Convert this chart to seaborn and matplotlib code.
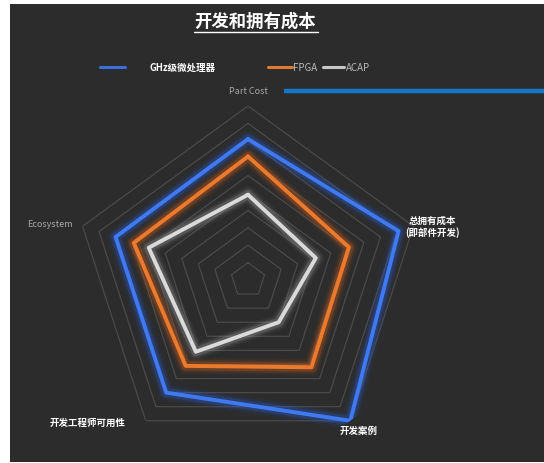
import numpy as np
import pandas as pd
import matplotlib
matplotlib.use("Agg")
import matplotlib.pyplot as plt
from matplotlib.patches import Rectangle
from matplotlib.lines import Line2D
import seaborn as sns

# ---- data ----
axes_labels = ["Part Cost", "总拥有成本\n(即部件开发)", "开发案例", "开发工程师可用性", "Ecosystem"]
series_names = ["GHz级微处理器", "FPGA", "ACAP"]
ghz_values = [8.1, 9.1, 10.0, 8.0, 8.0]
fpga_values = [7.1, 6.1, 6.2, 6.1, 6.9]
acap_values = [4.9, 4.1, 3.0, 5.1, 6.0]
ring_levels = [1, 2, 3, 4, 5, 6, 7, 8, 9, 10]
title_text = "开发和拥有成本"

sns.set_theme(style="dark")
plt.rcParams["font.family"] = ["Noto Sans CJK SC", "DejaVu Sans"]

W, H = 544, 464
fig = plt.figure(figsize=(W / 100, H / 100), dpi=100)
fig.patch.set_facecolor("white")
BG = "#2c2c2c"
fig.patches.append(Rectangle((10 / W, 1 - 463 / H), (W - 10) / W, (463 - 5) / H,
                             transform=fig.transFigure, facecolor=BG, edgecolor="none", zorder=-10))

def fx(px):
    return px / W

def fy(py):
    return 1 - py / H

# polar axes: center (248, 281), radius 174 px
cx, cy, R = 248, 281, 174
ax = fig.add_axes([fx(cx - R), fy(cy + R), 2 * R / W, 2 * R / H], projection="polar")
ax.set_zorder(1)
ax.set_facecolor("none")
ax.patch.set_alpha(0)
ax.set_theta_offset(np.pi / 2)
ax.set_theta_direction(-1)

n = len(axes_labels)
angles = [2 * np.pi * i / n for i in range(n)]
closed_angles = angles + angles[:1]

for lvl in ring_levels:
    ax.plot(closed_angles, [lvl] * (n + 1), color="#4a4a4a", lw=0.9, zorder=1)

colors = {"GHz级微处理器": ("#2a5fd6", "#3f7af2"),
          "FPGA": ("#d9621c", "#ec7a2c"),
          "ACAP": ("#a0a0a0", "#dadada")}

rows = []
for name, vals in zip(series_names, [ghz_values, fpga_values, acap_values]):
    cv = vals + vals[:1]
    for i, (a, v) in enumerate(zip(closed_angles, cv)):
        rows.append({"series": name, "angle": a, "value": v, "order": i})
df = pd.DataFrame(rows)

for name in series_names:
    sub = df[df["series"] == name].sort_values("order")
    glow, core = colors[name]
    for lw, al in [(12, 0.06), (9, 0.12), (6.5, 0.25)]:
        sns.lineplot(data=sub, x="angle", y="value", sort=False, ax=ax,
                     color=glow, lw=lw, alpha=al, estimator=None, legend=False, zorder=2)
    sns.lineplot(data=sub, x="angle", y="value", sort=False, ax=ax,
                 color=core, lw=2.8, estimator=None, legend=False, zorder=3)

ax.set_ylim(0, 10)
ax.grid(False)
ax.spines["polar"].set_visible(False)
ax.set_xlabel("")
ax.set_ylabel("")
ax.set_xticks([])
ax.set_yticks([])

# title with underline
fig.text(fx(255), fy(22), title_text, ha="center", va="center", color="white",
         fontsize=12.5, fontweight="bold")
fig.add_artist(Line2D([fx(194), fx(318)], [fy(33), fy(33)], color="white", lw=1.0,
                      transform=fig.transFigure))

# legend
leg_y = fy(68)
fig.add_artist(Line2D([fx(100), fx(125)], [leg_y, leg_y], color="#3a6fe0", lw=2.2, transform=fig.transFigure))
fig.text(fx(150), leg_y, series_names[0], ha="left", va="center", color="white", fontsize=6.8, fontweight="bold")
fig.add_artist(Line2D([fx(268), fx(292)], [leg_y, leg_y], color="#e07a30", lw=2.2, transform=fig.transFigure))
fig.text(fx(293), leg_y, series_names[1], ha="left", va="center", color="#b8b8b8", fontsize=7)
fig.add_artist(Line2D([fx(323), fx(344)], [leg_y, leg_y], color="#c8c8c8", lw=2.2, transform=fig.transFigure))
fig.text(fx(346), leg_y, series_names[2], ha="left", va="center", color="#b8b8b8", fontsize=7)

# blue bar next to Part Cost
fig.add_artist(Line2D([fx(284), fx(544)], [fy(92), fy(92)], color="#1677c6", lw=3.2,
                      transform=fig.transFigure, solid_capstyle="butt"))

# axis labels
fig.text(fx(248), fy(92), axes_labels[0], ha="center", va="center", color="#a8a8a8", fontsize=6.5)
fig.text(fx(432), fy(227), axes_labels[1], ha="center", va="center", color="white",
         fontsize=6.8, fontweight="bold", linespacing=1.2)
fig.text(fx(340), fy(431), axes_labels[2], ha="left", va="center", color="white",
         fontsize=6.8, fontweight="bold")
fig.text(fx(88), fy(423), axes_labels[3], ha="center", va="center", color="white",
         fontsize=6.8, fontweight="bold")
fig.text(fx(50), fy(225), axes_labels[4], ha="center", va="center", color="#a8a8a8", fontsize=6.5)

fig.savefig("out.png", dpi=100, facecolor=fig.get_facecolor())
